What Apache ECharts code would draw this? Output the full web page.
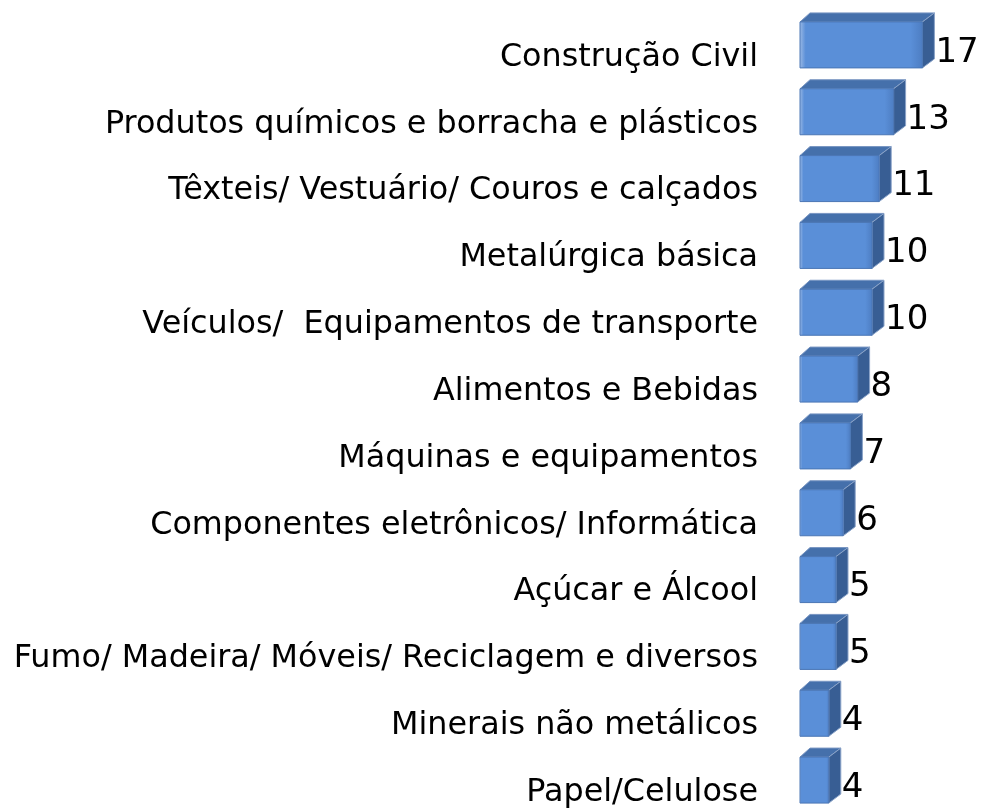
<!DOCTYPE html>
<html>
<head>
<meta charset="utf-8">
<script src="https://cdn.jsdelivr.net/npm/echarts@6/dist/echarts.min.js"></script>
<style>
  html, body { margin: 0; padding: 0; background: #fff; }
  #chart { width: 984px; height: 809px; }
</style>
</head>
<body>
<div id="chart"></div>
<script>
// setores (de cima para baixo)
const categories = [
    'Construção Civil',
    'Produtos químicos e borracha e plásticos',
    'Têxteis/ Vestuário/ Couros e calçados',
    'Metalúrgica básica',
    'Veículos/  Equipamentos de transporte',
    'Alimentos e Bebidas',
    'Máquinas e equipamentos',
    'Componentes eletrônicos/ Informática',
    'Açúcar e Álcool',
    'Fumo/ Madeira/ Móveis/ Reciclagem e diversos',
    'Minerais não metálicos',
    'Papel/Celulose'
]
const values = [17, 13, 11, 10, 10, 8, 7, 6, 5, 5, 4, 4]

const chart = echarts.init(document.getElementById('chart'))

const DX = 12   // profundidade 3D
const DY = 9

const renderItem = (params, api) => {
    const idx = api.value(0)
    const val = api.value(1)
    const start = api.coord([0, idx])
    const end = api.coord([val, idx])
    const h = 46
    const x0 = start[0]
    const x1 = end[0]
    const yTop = start[1] - h / 2 + DY / 2
    const yBot = yTop + h
    return {
        type: 'group',
        children: [
            {   // topo
                type: 'polygon',
                shape: { points: [[x0, yTop], [x0 + DX - 2, yTop - DY], [x1 + DX, yTop - DY], [x1, yTop]] },
                style: { fill: '#4570ab', stroke: '#7895c2', lineWidth: 1 }
            },
            {   // lateral
                type: 'polygon',
                shape: { points: [[x1, yTop], [x1 + DX, yTop - DY], [x1 + DX, yBot - DY], [x1, yBot]] },
                style: { fill: '#385e94', stroke: '#8aa3c8', lineWidth: 1 }
            },
            {   // frente
                type: 'rect',
                shape: { x: x0, y: yTop, width: x1 - x0, height: h },
                style: {
                    fill: new echarts.graphic.LinearGradient(0, 0, 1, 0, [
                        { offset: 0, color: '#9dbbe6' },
                        { offset: 0.05, color: '#5a8fd8' },
                        { offset: 0.9, color: '#5a8fd8' },
                        { offset: 1, color: '#4d7dc2' }
                    ]),
                    stroke: '#4a76b5',
                    lineWidth: 1
                }
            },
            {
                type: 'text',
                style: {
                    text: String(val),
                    x: x1 + DX + 1,
                    y: yTop + h / 2 + 8,
                    verticalAlign: 'middle',
                    fontFamily: 'DejaVu Sans',
                    fontSize: 34,
                    fill: '#000'
                }
            }
        ]
    }
}

chart.setOption({
    animation: false,
    grid: { left: 800, right: 40, top: 7, bottom: -2, containLabel: false },
    xAxis: {
        type: 'value',
        min: 0,
        max: 20,
        show: false
    },
    yAxis: {
        type: 'category',
        data: categories,
        inverse: true,
        axisLine: { show: false },
        axisTick: { show: false },
        splitLine: { show: false },
        axisLabel: {
            margin: 42,
            fontFamily: 'DejaVu Sans',
            fontSize: 31.8,
            color: '#000',
            verticalAlign: 'top',
            padding: [1, 0, 0, 0]
        }
    },
    series: [{
        type: 'custom',
        renderItem: renderItem,
        encode: { x: 1, y: 0 },
        data: values.map((v, i) => [i, v])
    }]
})
</script>
</body>
</html>
